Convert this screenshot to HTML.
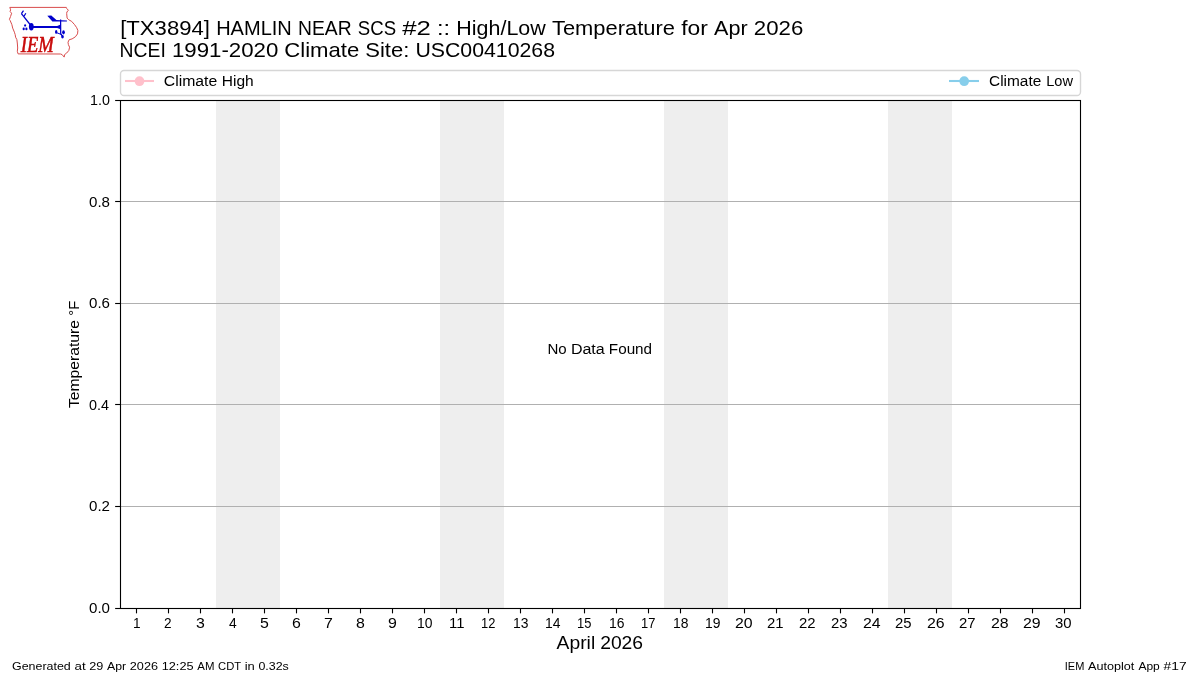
<!DOCTYPE html>
<html><head><meta charset="utf-8">
<style>
html,body{margin:0;padding:0;background:#fff;width:1200px;height:675px;overflow:hidden}
svg{display:block;will-change:transform}
text{font-family:"Liberation Sans",sans-serif;fill:#000}
</style></head>
<body>
<svg width="1200" height="675" viewBox="0 0 1200 675">
<rect x="0" y="0" width="1200" height="675" fill="#fff"/>
<g fill="#eeeeee">
<rect x="216" y="100" width="64" height="508"/>
<rect x="440" y="100" width="64" height="508"/>
<rect x="664" y="100" width="64" height="508"/>
<rect x="888" y="100" width="64" height="508"/>
</g>
<g stroke="#b0b0b0" stroke-width="1.11">
<line x1="120" y1="201.5" x2="1080" y2="201.5"/>
<line x1="120" y1="303.5" x2="1080" y2="303.5"/>
<line x1="120" y1="404.5" x2="1080" y2="404.5"/>
<line x1="120" y1="506.5" x2="1080" y2="506.5"/>
</g>
<rect x="120.5" y="100.5" width="960" height="508" stroke="#000" stroke-width="1.11" fill="none"/>
<g stroke="#000" stroke-width="1.11">
<line x1="115.14" y1="100.5" x2="120" y2="100.5"/>
<line x1="115.14" y1="201.5" x2="120" y2="201.5"/>
<line x1="115.14" y1="303.5" x2="120" y2="303.5"/>
<line x1="115.14" y1="404.5" x2="120" y2="404.5"/>
<line x1="115.14" y1="506.5" x2="120" y2="506.5"/>
<line x1="115.14" y1="608.5" x2="120" y2="608.5"/>
<line x1="136.5" y1="608.5" x2="136.5" y2="613.36"/>
<line x1="168.5" y1="608.5" x2="168.5" y2="613.36"/>
<line x1="200.5" y1="608.5" x2="200.5" y2="613.36"/>
<line x1="232.5" y1="608.5" x2="232.5" y2="613.36"/>
<line x1="264.5" y1="608.5" x2="264.5" y2="613.36"/>
<line x1="296.5" y1="608.5" x2="296.5" y2="613.36"/>
<line x1="328.5" y1="608.5" x2="328.5" y2="613.36"/>
<line x1="360.5" y1="608.5" x2="360.5" y2="613.36"/>
<line x1="392.5" y1="608.5" x2="392.5" y2="613.36"/>
<line x1="424.5" y1="608.5" x2="424.5" y2="613.36"/>
<line x1="456.5" y1="608.5" x2="456.5" y2="613.36"/>
<line x1="488.5" y1="608.5" x2="488.5" y2="613.36"/>
<line x1="520.5" y1="608.5" x2="520.5" y2="613.36"/>
<line x1="552.5" y1="608.5" x2="552.5" y2="613.36"/>
<line x1="584.5" y1="608.5" x2="584.5" y2="613.36"/>
<line x1="616.5" y1="608.5" x2="616.5" y2="613.36"/>
<line x1="648.5" y1="608.5" x2="648.5" y2="613.36"/>
<line x1="680.5" y1="608.5" x2="680.5" y2="613.36"/>
<line x1="712.5" y1="608.5" x2="712.5" y2="613.36"/>
<line x1="744.5" y1="608.5" x2="744.5" y2="613.36"/>
<line x1="776.5" y1="608.5" x2="776.5" y2="613.36"/>
<line x1="808.5" y1="608.5" x2="808.5" y2="613.36"/>
<line x1="840.5" y1="608.5" x2="840.5" y2="613.36"/>
<line x1="872.5" y1="608.5" x2="872.5" y2="613.36"/>
<line x1="904.5" y1="608.5" x2="904.5" y2="613.36"/>
<line x1="936.5" y1="608.5" x2="936.5" y2="613.36"/>
<line x1="968.5" y1="608.5" x2="968.5" y2="613.36"/>
<line x1="1000.5" y1="608.5" x2="1000.5" y2="613.36"/>
<line x1="1032.5" y1="608.5" x2="1032.5" y2="613.36"/>
<line x1="1064.5" y1="608.5" x2="1064.5" y2="613.36"/>
</g>


<rect x="120.5" y="70.5" width="960" height="25" rx="3.5" ry="3.5" fill="#fff" stroke="#d6d6d6" stroke-width="1.39"/>
<line x1="125" y1="81" x2="154" y2="81" stroke="#ffc0cb" stroke-width="2.08"/>
<circle cx="139.5" cy="81.2" r="4.85" fill="#ffc0cb"/>
<line x1="949" y1="81" x2="979" y2="81" stroke="#87ceeb" stroke-width="2.08"/>
<circle cx="964.2" cy="81.2" r="4.85" fill="#87ceeb"/>
<g id="t1" transform="translate(120.20,34.6)" font-size="20.6"><text x="0.00" y="0" textLength="89.72" lengthAdjust="spacingAndGlyphs">[TX3894]</text><text x="95.95" y="0" textLength="75.71" lengthAdjust="spacingAndGlyphs">HAMLIN</text><text x="177.87" y="0" textLength="53.57" lengthAdjust="spacingAndGlyphs">NEAR</text><text x="237.64" y="0" textLength="38.21" lengthAdjust="spacingAndGlyphs">SCS</text><text x="282.05" y="0" textLength="28.62" lengthAdjust="spacingAndGlyphs">#2</text><text x="316.86" y="0" textLength="13.08" lengthAdjust="spacingAndGlyphs">::</text><text x="336.13" y="0" textLength="89.40" lengthAdjust="spacingAndGlyphs">High/Low</text><text x="431.76" y="0" textLength="122.99" lengthAdjust="spacingAndGlyphs">Temperature</text><text x="560.99" y="0" textLength="26.70" lengthAdjust="spacingAndGlyphs">for</text><text x="593.88" y="0" textLength="33.59" lengthAdjust="spacingAndGlyphs">Apr</text><text x="633.66" y="0" textLength="49.41" lengthAdjust="spacingAndGlyphs">2026</text></g>
<g id="t2" transform="translate(119.60,56.7)" font-size="20.6"><text x="0.00" y="0" textLength="46.31" lengthAdjust="spacingAndGlyphs">NCEI</text><text x="52.37" y="0" textLength="106.36" lengthAdjust="spacingAndGlyphs">1991-2020</text><text x="164.63" y="0" textLength="75.08" lengthAdjust="spacingAndGlyphs">Climate</text><text x="245.69" y="0" textLength="44.04" lengthAdjust="spacingAndGlyphs">Site:</text><text x="295.80" y="0" textLength="139.61" lengthAdjust="spacingAndGlyphs">USC00410268</text></g>
<g id="lh" transform="translate(163.80,85.7)" font-size="14.72"><text x="0.00" y="0" textLength="53.45" lengthAdjust="spacingAndGlyphs">Climate</text><text x="57.93" y="0" textLength="31.93" lengthAdjust="spacingAndGlyphs">High</text></g>
<g id="ll" transform="translate(989.00,85.9)" font-size="14.72"><text x="0.00" y="0" textLength="52.24" lengthAdjust="spacingAndGlyphs">Climate</text><text x="57.28" y="0" textLength="26.74" lengthAdjust="spacingAndGlyphs">Low</text></g>
<g id="xlab" transform="translate(556.60,649)" font-size="17.66"><text x="0.00" y="0" textLength="38.57" lengthAdjust="spacingAndGlyphs">April</text><text x="43.56" y="0" textLength="42.94" lengthAdjust="spacingAndGlyphs">2026</text></g>
<g id="nd" transform="translate(547.40,353.8)" font-size="14.72"><text x="0.00" y="0" textLength="19.27" lengthAdjust="spacingAndGlyphs">No</text><text x="23.51" y="0" textLength="33.83" lengthAdjust="spacingAndGlyphs">Data</text><text x="61.43" y="0" textLength="43.27" lengthAdjust="spacingAndGlyphs">Found</text></g>
<g id="fl" transform="translate(12.00,669.75)" font-size="11.2"><text x="0.00" y="0" textLength="58.74" lengthAdjust="spacingAndGlyphs">Generated</text><text x="62.59" y="0" textLength="11.12" lengthAdjust="spacingAndGlyphs">at</text><text x="77.32" y="0" textLength="14.09" lengthAdjust="spacingAndGlyphs">29</text><text x="95.02" y="0" textLength="19.15" lengthAdjust="spacingAndGlyphs">Apr</text><text x="117.82" y="0" textLength="28.18" lengthAdjust="spacingAndGlyphs">2026</text><text x="149.68" y="0" textLength="31.91" lengthAdjust="spacingAndGlyphs">12:25</text><text x="185.30" y="0" textLength="17.13" lengthAdjust="spacingAndGlyphs">AM</text><text x="206.06" y="0" textLength="23.02" lengthAdjust="spacingAndGlyphs">CDT</text><text x="232.74" y="0" textLength="10.09" lengthAdjust="spacingAndGlyphs">in</text><text x="246.42" y="0" textLength="30.42" lengthAdjust="spacingAndGlyphs">0.32s</text></g>
<g id="fr" transform="translate(1064.80,669.75)" font-size="11.2"><text x="0.00" y="0" textLength="19.56" lengthAdjust="spacingAndGlyphs">IEM</text><text x="23.28" y="0" textLength="46.33" lengthAdjust="spacingAndGlyphs">Autoplot</text><text x="73.62" y="0" textLength="21.36" lengthAdjust="spacingAndGlyphs">App</text><text x="98.72" y="0" textLength="23.07" lengthAdjust="spacingAndGlyphs">#17</text></g>
<g id="yl" transform="translate(79,408.00) rotate(-90)" font-size="14.72"><text x="0.00" y="0" textLength="87.98" lengthAdjust="spacingAndGlyphs">Temperature</text><text x="92.39" y="0" textLength="14.93" lengthAdjust="spacingAndGlyphs">°F</text></g>
<g id="xt1" transform="translate(133.00,627.6)" font-size="14.72"><text x="0.00" y="0" textLength="7.57" lengthAdjust="spacingAndGlyphs">1</text></g>
<g id="xt2" transform="translate(164.00,627.6)" font-size="14.72"><text x="0.00" y="0" textLength="7.57" lengthAdjust="spacingAndGlyphs">2</text></g>
<g id="xt3" transform="translate(196.00,627.6)" font-size="14.72"><text x="0.00" y="0" textLength="8.84" lengthAdjust="spacingAndGlyphs">3</text></g>
<g id="xt4" transform="translate(229.00,627.6)" font-size="14.72"><text x="0.00" y="0" textLength="7.73" lengthAdjust="spacingAndGlyphs">4</text></g>
<g id="xt5" transform="translate(260.00,627.6)" font-size="14.72"><text x="0.00" y="0" textLength="8.84" lengthAdjust="spacingAndGlyphs">5</text></g>
<g id="xt6" transform="translate(292.00,627.6)" font-size="14.72"><text x="0.00" y="0" textLength="8.84" lengthAdjust="spacingAndGlyphs">6</text></g>
<g id="xt7" transform="translate(324.00,627.6)" font-size="14.72"><text x="0.00" y="0" textLength="8.84" lengthAdjust="spacingAndGlyphs">7</text></g>
<g id="xt8" transform="translate(356.00,627.6)" font-size="14.72"><text x="0.00" y="0" textLength="8.84" lengthAdjust="spacingAndGlyphs">8</text></g>
<g id="xt9" transform="translate(388.00,627.6)" font-size="14.72"><text x="0.00" y="0" textLength="8.84" lengthAdjust="spacingAndGlyphs">9</text></g>
<g id="xt10" transform="translate(417.00,627.6)" font-size="14.72"><text x="0.00" y="0" textLength="15.46" lengthAdjust="spacingAndGlyphs">10</text></g>
<g id="xt11" transform="translate(449.00,627.6)" font-size="14.72"><text x="0.00" y="0" textLength="15.46" lengthAdjust="spacingAndGlyphs">11</text></g>
<g id="xt12" transform="translate(481.00,627.6)" font-size="14.72"><text x="0.00" y="0" textLength="14.36" lengthAdjust="spacingAndGlyphs">12</text></g>
<g id="xt13" transform="translate(513.00,627.6)" font-size="14.72"><text x="0.00" y="0" textLength="15.46" lengthAdjust="spacingAndGlyphs">13</text></g>
<g id="xt14" transform="translate(545.00,627.6)" font-size="14.72"><text x="0.00" y="0" textLength="15.46" lengthAdjust="spacingAndGlyphs">14</text></g>
<g id="xt15" transform="translate(577.00,627.6)" font-size="14.72"><text x="0.00" y="0" textLength="14.36" lengthAdjust="spacingAndGlyphs">15</text></g>
<g id="xt16" transform="translate(609.00,627.6)" font-size="14.72"><text x="0.00" y="0" textLength="15.46" lengthAdjust="spacingAndGlyphs">16</text></g>
<g id="xt17" transform="translate(641.00,627.6)" font-size="14.72"><text x="0.00" y="0" textLength="14.36" lengthAdjust="spacingAndGlyphs">17</text></g>
<g id="xt18" transform="translate(673.00,627.6)" font-size="14.72"><text x="0.00" y="0" textLength="15.46" lengthAdjust="spacingAndGlyphs">18</text></g>
<g id="xt19" transform="translate(705.00,627.6)" font-size="14.72"><text x="0.00" y="0" textLength="15.46" lengthAdjust="spacingAndGlyphs">19</text></g>
<g id="xt20" transform="translate(735.00,627.6)" font-size="14.72"><text x="0.00" y="0" textLength="17.67" lengthAdjust="spacingAndGlyphs">20</text></g>
<g id="xt21" transform="translate(767.00,627.6)" font-size="14.72"><text x="0.00" y="0" textLength="16.57" lengthAdjust="spacingAndGlyphs">21</text></g>
<g id="xt22" transform="translate(799.00,627.6)" font-size="14.72"><text x="0.00" y="0" textLength="16.57" lengthAdjust="spacingAndGlyphs">22</text></g>
<g id="xt23" transform="translate(831.00,627.6)" font-size="14.72"><text x="0.00" y="0" textLength="16.57" lengthAdjust="spacingAndGlyphs">23</text></g>
<g id="xt24" transform="translate(863.00,627.6)" font-size="14.72"><text x="0.00" y="0" textLength="17.67" lengthAdjust="spacingAndGlyphs">24</text></g>
<g id="xt25" transform="translate(895.00,627.6)" font-size="14.72"><text x="0.00" y="0" textLength="16.57" lengthAdjust="spacingAndGlyphs">25</text></g>
<g id="xt26" transform="translate(927.00,627.6)" font-size="14.72"><text x="0.00" y="0" textLength="17.67" lengthAdjust="spacingAndGlyphs">26</text></g>
<g id="xt27" transform="translate(959.00,627.6)" font-size="14.72"><text x="0.00" y="0" textLength="16.57" lengthAdjust="spacingAndGlyphs">27</text></g>
<g id="xt28" transform="translate(991.00,627.6)" font-size="14.72"><text x="0.00" y="0" textLength="17.67" lengthAdjust="spacingAndGlyphs">28</text></g>
<g id="xt29" transform="translate(1023.00,627.6)" font-size="14.72"><text x="0.00" y="0" textLength="17.67" lengthAdjust="spacingAndGlyphs">29</text></g>
<g id="xt30" transform="translate(1055.00,627.6)" font-size="14.72"><text x="0.00" y="0" textLength="16.57" lengthAdjust="spacingAndGlyphs">30</text></g>
<g id="yt1.0" transform="translate(90.00,104.6)" font-size="14.72"><text x="0.00" y="0" textLength="19.88" lengthAdjust="spacingAndGlyphs">1.0</text></g>
<g id="yt0.8" transform="translate(89.00,206.6)" font-size="14.72"><text x="0.00" y="0" textLength="20.98" lengthAdjust="spacingAndGlyphs">0.8</text></g>
<g id="yt0.6" transform="translate(89.00,307.6)" font-size="14.72"><text x="0.00" y="0" textLength="20.98" lengthAdjust="spacingAndGlyphs">0.6</text></g>
<g id="yt0.4" transform="translate(89.00,409.6)" font-size="14.72"><text x="0.00" y="0" textLength="19.98" lengthAdjust="spacingAndGlyphs">0.4</text></g>
<g id="yt0.2" transform="translate(89.00,510.6)" font-size="14.72"><text x="0.00" y="0" textLength="20.98" lengthAdjust="spacingAndGlyphs">0.2</text></g>
<g id="yt0.0" transform="translate(89.00,612.6)" font-size="14.72"><text x="0.00" y="0" textLength="20.98" lengthAdjust="spacingAndGlyphs">0.0</text></g>

<defs><filter id="lb" x="-10%" y="-10%" width="120%" height="120%"><feGaussianBlur stdDeviation="0.25"/></filter></defs>
<g id="logo" filter="url(#lb)">
<path d="M9.8,7.4 L66.3,7.4 L66.8,8.6 L68.4,10.2 L66.9,12 L66.7,13.6 L67.1,18.1 L68.8,19.8 L71.7,21.4 L74.6,24.7 L76.7,27.7 L77.9,30.6 L77.5,33.9 L75.4,36.8 L72.1,38.9 L69.2,39.7 L68,42.2 L68.4,44.7 L69.6,47.2 L68.8,50.5 L66.7,53 L64.6,54.6 L64.2,57.1 L62.1,54.6 L60.5,54 L18.1,53.9 L17.3,51.3 L17.7,48 L17.3,43 L16.9,39.7 L15.6,37.2 L15.2,34.7 L14.4,32.2 L12.7,28.1 L11.9,24.7 L10.2,20.6 L9.4,19.4 L10.6,16.4 L11.6,13.2 L10.1,11.6 L10.6,9.8 Z" fill="none" stroke="#d84c4c" stroke-width="1" stroke-linejoin="round"/>
<g fill="#0000cc" stroke="#0000cc">
<line x1="30.5" y1="25" x2="21.4" y2="13.7" stroke-width="1.25"/>
<line x1="21.4" y1="13.7" x2="23.5" y2="10.7" stroke-width="1.25"/>
<line x1="24" y1="16.3" x2="25.8" y2="13.3" stroke-width="1.25"/>
<ellipse cx="31.3" cy="26.75" rx="2.4" ry="3.7" stroke="none"/>
<line x1="31.4" y1="27" x2="60.4" y2="27.1" stroke-width="2"/>
<path d="M57.2,26.1 L60.7,24.6 L60.7,29.3 L57.2,28.1 Z" stroke="none"/>
<polyline points="60.6,19.4 60.7,33.6 62.3,36.2" fill="none" stroke-width="1.25"/>
<path d="M47.3,15.8 L51.3,15.5 L56.4,19.9 L66.9,20.5 L66.9,21.4 L52.4,21.6 Z" stroke="none"/>
<line x1="56.5" y1="32.6" x2="62" y2="34.8" stroke-width="1"/>
<ellipse cx="56.2" cy="31.9" rx="1.2" ry="1.9" stroke="none"/>
<ellipse cx="63.5" cy="32.3" rx="1.35" ry="2.1" stroke="none"/>
<ellipse cx="62.5" cy="36.7" rx="1.3" ry="1.7" stroke="none"/>
<ellipse cx="25.1" cy="25.4" rx="1" ry="1.2" stroke="none"/>
<ellipse cx="23.7" cy="28.9" rx="1.1" ry="1.3" stroke="none"/>
<ellipse cx="26.4" cy="28.9" rx="1.1" ry="1.3" stroke="none"/>
</g>
<text x="20.8" y="51.7" font-style="italic" font-size="22.3" textLength="33" lengthAdjust="spacingAndGlyphs" stroke="#c80808" stroke-width="0.5" style="font-family:'Liberation Serif',serif;fill:#c80808">IEM</text>
</g>

</svg>
</body></html>
